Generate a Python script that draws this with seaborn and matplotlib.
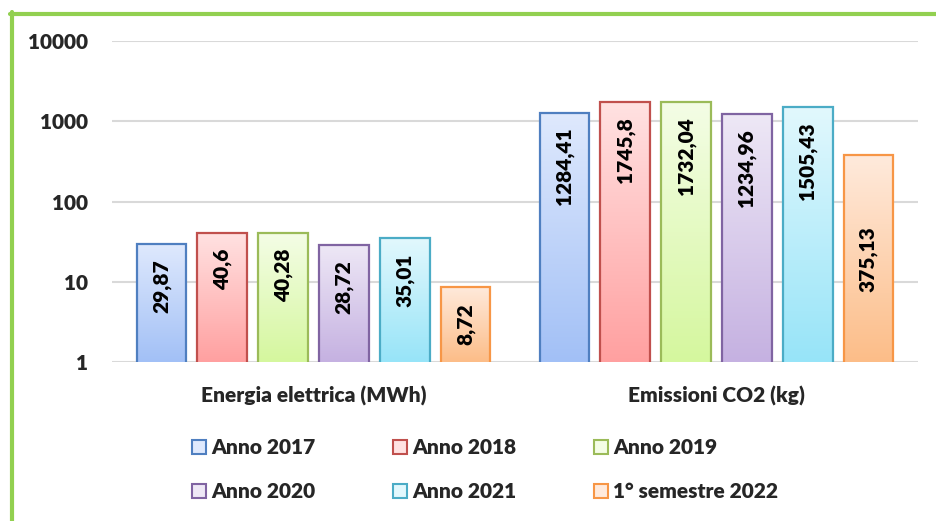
import matplotlib
matplotlib.use("Agg")
import matplotlib.pyplot as plt
import numpy as np
import pandas as pd
import seaborn as sns
from matplotlib.colors import LinearSegmentedColormap
from matplotlib.patches import Rectangle
from matplotlib.lines import Line2D
from matplotlib.ticker import NullLocator

# dati
categorie = ["Energia elettrica (MWh)", "Emissioni CO2 (kg)"]
serie = ["Anno 2017", "Anno 2018", "Anno 2019", "Anno 2020", "Anno 2021", "1° semestre 2022"]
energia = [29.87, 40.6, 40.28, 28.72, 35.01, 8.72]
emissioni = [1284.41, 1745.8, 1732.04, 1234.96, 1505.43, 375.13]
tick_y = [1, 10, 100, 1000, 10000]

# stile: colore chiaro in alto, scuro in basso, bordo
col_alto = ["#dfe9fd", "#ffe2e2", "#f4fde6", "#eee8f6", "#e2f8fd", "#ffeadc"]
col_basso = ["#a2c0f6", "#ffa0a0", "#d5f79e", "#c5b1e1", "#97e4f8", "#fcbd88"]
col_bordo = ["#4f7fc0", "#c0504d", "#9bbb59", "#8064a2", "#4bacc6", "#f79646"]
pos_etichetta = ["fine", "fine", "fine", "fine", "fine", "centro"]

PESO = "heavy"

df = pd.DataFrame({
    "categoria": np.repeat(categorie, len(serie)),
    "serie": serie * len(categorie),
    "valore": energia + emissioni,
})

sns.set_theme(style="white")
plt.rcParams["font.family"] = ["Lato", "DejaVu Sans"]
plt.rcParams["font.weight"] = PESO

fig = plt.figure(figsize=(9.36, 5.21), dpi=100)
ax = fig.add_axes([112 / 936, 1 - 362 / 521, (918 - 112) / 936, (362 - 41) / 521])

sns.barplot(data=df, x="categoria", y="valore", hue="serie", order=categorie,
            hue_order=serie, palette=col_basso, width=0.905, gap=0.18,
            errorbar=None, legend=False, ax=ax)
ax.set_yscale("log")
ax.set_ylim(1, 10000)
ax.set_xlim(-0.5, 1.5)
ax.autoscale(False)

# riempimento sfumato delle barre
to_axes = ax.transData + ax.transAxes.inverted()
grad = np.linspace(0, 1, 256).reshape(-1, 1)
for i, cont in enumerate(ax.containers):
    cmap = LinearSegmentedColormap.from_list(f"g{i}", [col_basso[i], col_alto[i]])
    for bar in cont:
        x0, w, h = bar.get_x(), bar.get_width(), bar.get_height()
        (ax0, ay0), (ax1, ay1) = to_axes.transform([(x0, 1), (x0 + w, h)])
        ax.imshow(grad, cmap=cmap, origin="lower", extent=(ax0, ax1, ay0, ay1),
                  transform=ax.transAxes, aspect="auto", interpolation="bilinear",
                  zorder=1.5)
        bar.set_facecolor("none")
        bar.set_edgecolor(col_bordo[i])
        bar.set_linewidth(1.6)
        bar.set_zorder(2)

        testo = f"{h:g}".replace(".", ",")
        xc = x0 + w / 2
        if pos_etichetta[i] == "centro":
            ax.text(xc, np.sqrt(h), testo, rotation=90, ha="center", va="center",
                    fontsize=15, fontweight=PESO, color="black", zorder=3)
        else:
            ax.annotate(testo, (xc, h), xytext=(0, -11), textcoords="offset points",
                        rotation=90, ha="center", va="top", fontsize=15,
                        fontweight=PESO, color="black", zorder=3)

ax.set_yticks(tick_y)
ax.set_yticklabels([str(t) for t in tick_y])
ax.yaxis.set_minor_locator(NullLocator())
ax.tick_params(axis="y", length=0, pad=17, labelsize=15)
ax.tick_params(axis="x", length=0, pad=17, labelsize=15)
for lab in ax.get_xticklabels() + ax.get_yticklabels():
    lab.set_fontweight(PESO)
ax.grid(axis="y", color="#d9d9d9", linewidth=1.5, zorder=0)
ax.set_axisbelow(True)
sns.despine(ax=ax, left=True, bottom=True)
ax.set_xlabel("")
ax.set_ylabel("")

# legenda (riempita per righe)
ordine = [0, 3, 1, 4, 2, 5]
maniglie = [Rectangle((0, 0), 1, 1, facecolor=col_alto[i], edgecolor=col_bordo[i], linewidth=1.5)
            for i in ordine]
leg = fig.legend(maniglie, [serie[i] for i in ordine], ncol=3, loc="center",
                 bbox_to_anchor=(485 / 936, 1 - 469.5 / 521), frameon=False,
                 prop={"size": 15, "weight": PESO}, handlelength=0.65, handleheight=0.65,
                 handletextpad=0.25, columnspacing=3.75, labelspacing=1.2)

# bordo verde
fig.add_artist(Line2D([11.5 / 936, 11.5 / 936], [0, 1 - 12 / 521], transform=fig.transFigure,
                      color="#92d050", linewidth=3))
fig.add_artist(Line2D([10 / 936, 1], [1 - 13.5 / 521, 1 - 13.5 / 521], transform=fig.transFigure,
                      color="#92d050", linewidth=3))

fig.savefig("out.png", dpi=100)
